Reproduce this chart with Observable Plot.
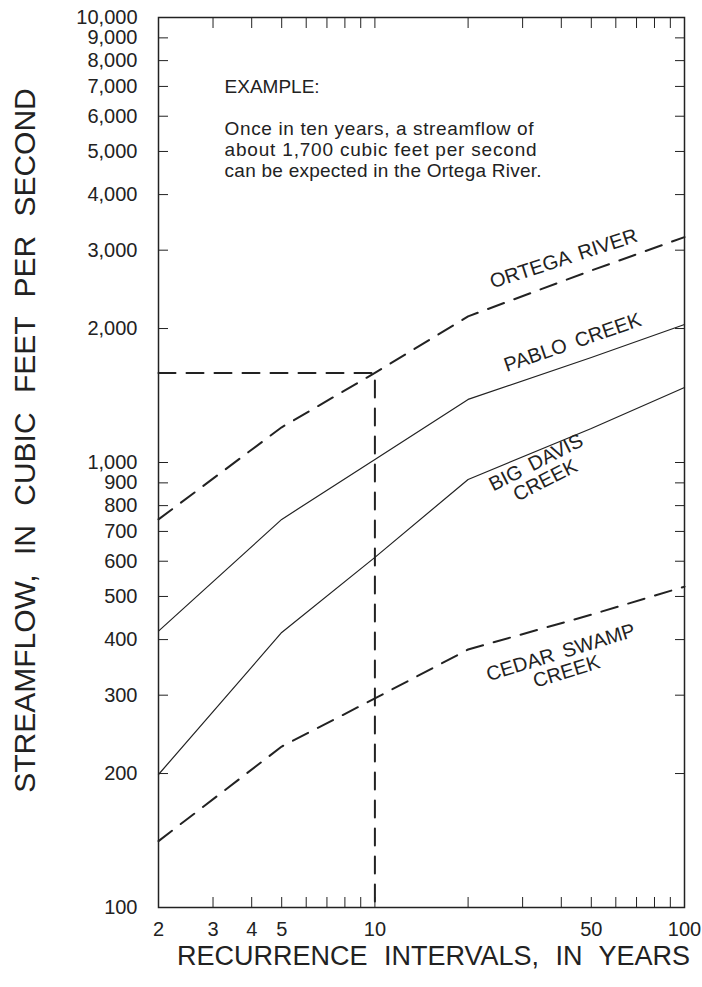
<!DOCTYPE html>
<html><head><meta charset="utf-8">
<script src="https://cdn.jsdelivr.net/npm/d3@7"></script>
<script src="https://cdn.jsdelivr.net/npm/@observablehq/plot@0.6"></script>
<style>
body{margin:0;background:#fff;}
#chart svg{font-family:"Liberation Sans",Arial,Helvetica,sans-serif;background:#fff;}
</style></head><body><div id="chart"></div>
<script>
// ---- data ----
const years = [2, 5, 10, 20, 50, 100];
const ortegaRiver = [745, 1200, 1590, 2130, 2700, 3210];
const pabloCreek = [418, 745, 1016, 1386, 1722, 2042];
const bigDavisCreek = [199, 415, 612, 916, 1192, 1474];
const cedarSwampCreek = [141, 230, 295, 380, 455, 526];

const seriesNames = ["ORTEGA RIVER", "PABLO CREEK", "BIG DAVIS\nCREEK", "CEDAR SWAMP\nCREEK"];
const seriesValues = [ortegaRiver, pabloCreek, bigDavisCreek, cedarSwampCreek];
const seriesDashed = [true, false, false, true];
const labelYear = [40.7, 43.5, 34.3, 40.7];
const labelFlow = [2870, 1860, 955, 356];
const labelAngle = [-18, -19, -27, -17];

const xTicks = [2, 3, 4, 5, 6, 7, 8, 9, 10, 20, 30, 40, 50, 60, 70, 80, 90, 100];
const xTickLabels = [2, 3, 4, 5, 10, 50, 100];
const yTicks = [100, 200, 300, 400, 500, 600, 700, 800, 900, 1000, 2000, 3000, 4000, 5000, 6000, 7000, 8000, 9000, 10000];
const yTickLabels = [100, 200, 300, 400, 500, 600, 700, 800, 900, 1000, 2000, 3000, 4000, 5000, 6000, 7000, 8000, 9000, 10000];

const exampleYear = 10;
const exampleFlow = 1590;
const exampleTexts = ["EXAMPLE:", "Once in ten years, a streamflow of", "about 1,700 cubic feet per second", "can be expected in the Ortega River."];
const exampleTextYear = 3.27;
const exampleTextFlow = [7000, 5631, 5051, 4532];

const xTitle = "RECURRENCE INTERVALS, IN YEARS";
const yTitle = "STREAMFLOW, IN CUBIC FEET PER SECOND";

// ---- build tables ----
const lines = seriesNames.flatMap((name, s) => years.map((yr, i) => ({name, dashed: seriesDashed[s], year: yr, flow: seriesValues[s][i]})));
const labels = seriesNames.map((name, s) => ({name, year: labelYear[s], flow: labelFlow[s], angle: labelAngle[s]}));
const examplePath = [{year: xTicks[0], flow: exampleFlow}, {year: exampleYear, flow: exampleFlow}, {year: exampleYear, flow: yTicks[0]}];
const exampleRows = exampleTexts.map((t, i) => ({t, year: exampleTextYear, flow: exampleTextFlow[i]}));

const ink = "#222";
const fmt = d3.format(",");

const chart = Plot.plot({
  width: 702, height: 987,
  marginLeft: 158, marginRight: 18, marginTop: 17, marginBottom: 80,
  style: {fontSize: "20px", color: ink, background: "#fff"},
  x: {type: "log", domain: [2, 100]},
  y: {type: "log", domain: [100, 10000]},
  marks: [
    Plot.axisX(xTicks, {anchor: "bottom", tickSize: -10, fill: "none", stroke: ink, label: null}),
    Plot.axisX(xTicks, {anchor: "top", tickSize: -10, fill: "none", stroke: ink, label: null}),
    Plot.text(xTickLabels, {x: d => d, frameAnchor: "bottom", lineAnchor: "top", dy: 14, text: d => fmt(d), fontSize: 20, fill: ink}),
    Plot.axisY(yTicks, {anchor: "left", tickSize: -10, fill: "none", stroke: ink, label: null}),
    Plot.axisY(yTicks, {anchor: "right", tickSize: -10, fill: "none", stroke: ink, label: null}),
    Plot.axisY(yTickLabels, {anchor: "left", tickSize: 0, tickPadding: 21, tickFormat: fmt, fill: ink, fontSize: 20, label: null}),
    Plot.frame({stroke: ink, strokeWidth: 1.5}),
    Plot.line(lines.filter(d => !d.dashed), {x: "year", y: "flow", z: "name", stroke: ink, strokeWidth: 1.2}),
    Plot.line(lines.filter(d => d.dashed), {x: "year", y: "flow", z: "name", stroke: ink, strokeWidth: 2, strokeDasharray: "17,11"}),
    Plot.line(examplePath, {x: "year", y: "flow", stroke: ink, strokeWidth: 2, strokeDasharray: "17,11"}),
    Plot.text(labels, {x: "year", y: "flow", text: "name", rotate: "angle", fontSize: 20, lineHeight: 1.0, fill: ink, textAnchor: "middle"}),
    Plot.text(exampleRows, {x: "year", y: "flow", text: "t", textAnchor: "start", fontSize: 19, fill: ink}),
    Plot.text([xTitle], {frameAnchor: "bottom", textAnchor: "middle", dy: 57, dx: 12, fontSize: 27, fill: ink}),
    Plot.text([yTitle], {frameAnchor: "left", textAnchor: "middle", rotate: -90, dx: -133, dy: -22, fontSize: 30, fill: ink})
  ]
});
document.getElementById("chart").appendChild(chart);

// typographic touches: justified example paragraph, wide word spacing in titles
const justify = [null, 309, 312, 317];
d3.select(chart).selectAll("text").each(function () {
  const t = this.textContent;
  const k = exampleTexts.indexOf(t);
  if (k > 0) { this.setAttribute("textLength", justify[k]); this.setAttribute("lengthAdjust", "spacing"); }
  if (t === xTitle) this.style.wordSpacing = "9px";
  if (t === yTitle) this.style.wordSpacing = "11px";
  if (labels.some(l => l.name.replace("\n", "") === t)) this.style.wordSpacing = "4px";
});
</script></body></html>
